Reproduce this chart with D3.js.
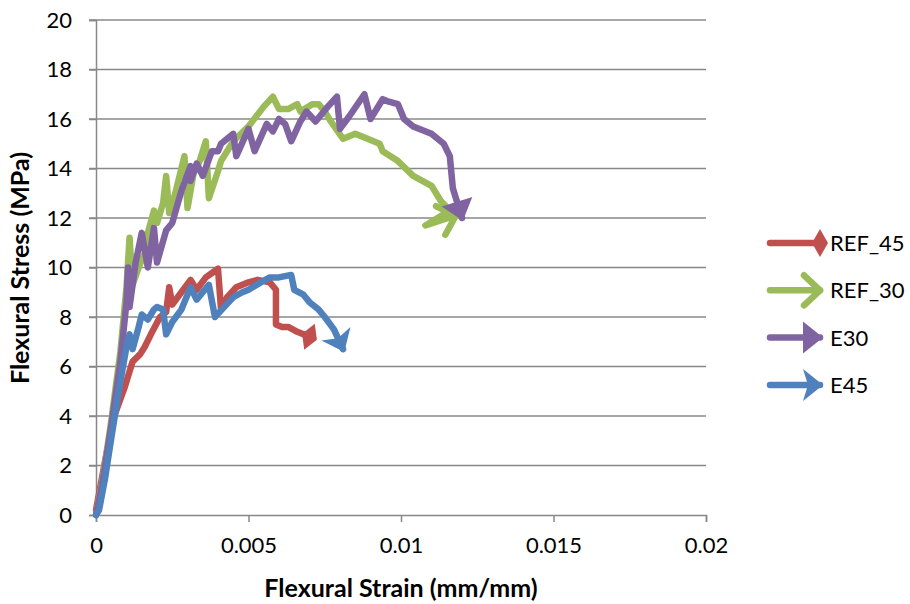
<!DOCTYPE html>
<html>
<head>
<meta charset="utf-8">
<script src="https://cdn.jsdelivr.net/npm/d3@7"></script>
<style>
  body { margin: 0; background: #fff; }
  text { font-family: Lato, "Open Sans", sans-serif; fill: #000; }
</style>
</head>
<body>
<div id="chart"></div>
<script>
// data: [strain (mm/mm), stress (MPa)]
const ref45 = [[0,0.2],[0.0003,2.2],[0.0006,4.0],[0.00095,5.2],[0.0012,6.2],[0.00145,6.5],[0.0016,6.8],[0.0018,7.3],[0.0021,8.0],[0.0023,8.2],[0.0024,9.2],[0.0025,8.5],[0.0028,9.0],[0.0031,9.5],[0.0033,9.1],[0.0036,9.6],[0.0040,9.95],[0.0041,8.3],[0.0043,8.8],[0.0046,9.2],[0.0050,9.4],[0.0053,9.5],[0.0057,9.4],[0.0059,9.1],[0.0059,7.7],[0.0061,7.6],[0.0063,7.6],[0.0066,7.4],[0.0068,7.3],[0.0070,7.2]];
const ref30 = [[0,0],[0.0002,1.3],[0.0005,3.8],[0.0008,6.6],[0.001,9.2],[0.0011,11.2],[0.0012,9.3],[0.0014,10.0],[0.0016,10.6],[0.0017,11.4],[0.0019,12.3],[0.0020,11.8],[0.0022,12.6],[0.0023,13.7],[0.0024,12.2],[0.0026,13.0],[0.0029,14.5],[0.0030,12.4],[0.0032,13.8],[0.0034,14.3],[0.0036,15.1],[0.0037,12.8],[0.0040,13.9],[0.0041,14.3],[0.0045,15.1],[0.0050,15.7],[0.0055,16.5],[0.0058,16.9],[0.0060,16.4],[0.0063,16.4],[0.0066,16.6],[0.0067,16.3],[0.0071,16.6],[0.0073,16.6],[0.0075,16.3],[0.0077,15.9],[0.0081,15.2],[0.0085,15.4],[0.0089,15.2],[0.0093,15.0],[0.0094,14.7],[0.0099,14.3],[0.0104,13.7],[0.0110,13.3],[0.0113,12.7],[0.0116,12.3],[0.0108,11.7],[0.0118,12.1]];
const e30 = [[0,0],[0.0002,1.2],[0.0005,3.6],[0.0008,6.2],[0.001,8.6],[0.00105,10.0],[0.0011,8.4],[0.0013,10.2],[0.0015,11.4],[0.0017,10.0],[0.0019,11.6],[0.0020,10.2],[0.0023,11.5],[0.0025,11.8],[0.0028,13.1],[0.0031,14.1],[0.0031,13.5],[0.0033,14.2],[0.0035,13.7],[0.0038,14.7],[0.0040,14.7],[0.0041,15.0],[0.0043,15.2],[0.0045,15.4],[0.0046,14.5],[0.0050,15.6],[0.0052,14.7],[0.0056,15.8],[0.0058,15.5],[0.0060,16.0],[0.0062,15.8],[0.0064,15.1],[0.0067,15.9],[0.0069,16.3],[0.0072,15.9],[0.0076,16.5],[0.0079,16.9],[0.0080,15.6],[0.0083,16.1],[0.0088,17.0],[0.0090,16.0],[0.0094,16.8],[0.0096,16.7],[0.0099,16.6],[0.0101,16.0],[0.0104,15.7],[0.0110,15.4],[0.0114,15.0],[0.0116,14.5],[0.0117,13.2],[0.0120,12.0]];
const e45 = [[0,0],[0.0001,0.2],[0.0003,1.5],[0.0005,3.1],[0.0008,5.4],[0.001,6.8],[0.0011,7.3],[0.0012,6.7],[0.0014,7.6],[0.0015,8.1],[0.0017,7.9],[0.0019,8.3],[0.0020,8.4],[0.0022,8.3],[0.0023,7.3],[0.0025,7.8],[0.0028,8.3],[0.0031,9.2],[0.0033,8.7],[0.0035,9.0],[0.0037,9.3],[0.0039,8.0],[0.0042,8.4],[0.0045,8.8],[0.0048,9.0],[0.0050,9.1],[0.0054,9.4],[0.0057,9.6],[0.0060,9.6],[0.0064,9.7],[0.0065,9.1],[0.0068,8.9],[0.0070,8.6],[0.0073,8.3],[0.0075,8.0],[0.0078,7.5],[0.0081,6.7]];

const seriesNames = ['REF_45', 'REF_30', 'E30', 'E45'];
const seriesData = [ref45, ref30, e30, e45];
const xTicks = [0, 0.005, 0.01, 0.015, 0.02];
const yTicks = [0, 2, 4, 6, 8, 10, 12, 14, 16, 18, 20];

const width = 910;
const height = 604;
const colors = ['#C0504D', '#9BBB59', '#8064A2', '#4F81BD'];
const markerKinds = ['diamond', 'open', 'triangle', 'stealth'];

const x = d3.scaleLinear().domain([0, 0.02]).range([96, 706]);
const y = d3.scaleLinear().domain([0, 20]).range([515, 20]);

const svg = d3.select('#chart').append('svg')
  .attr('width', width)
  .attr('height', height);

svg.append('rect').attr('width', width).attr('height', height).attr('fill', '#fff');

// end markers
const defs = svg.append('defs');
colors.forEach((c, i) => {
  const m = defs.append('marker')
    .attr('id', 'mk' + i)
    .attr('markerUnits', 'userSpaceOnUse')
    .attr('orient', 'auto')
    .attr('viewBox', '-30 -20 50 40')
    .attr('markerWidth', 50)
    .attr('markerHeight', 40)
    .attr('overflow', 'visible');
  const kind = markerKinds[i];
  if (kind === 'diamond') {
    m.attr('refX', 0).attr('refY', 0);
    m.append('path').attr('d', 'M-8,0 L0,-14 L8,0 L0,14 Z').attr('fill', c);
  } else if (kind === 'open') {
    m.attr('refX', 0).attr('refY', 0);
    m.append('path').attr('d', 'M-16,-15 L0,0 L-16,15')
      .attr('fill', 'none').attr('stroke', c).attr('stroke-width', 6.5)
      .attr('stroke-linecap', 'round').attr('stroke-linejoin', 'round');
  } else if (kind === 'triangle') {
    m.attr('refX', 4).attr('refY', 0);
    m.append('path').attr('d', 'M-13,-16 L7,0 L-13,16 Z').attr('fill', c);
  } else {
    m.attr('refX', 4).attr('refY', 0);
    m.append('path').attr('d', 'M7,0 L-13,-16 L-8,0 L-13,16 Z').attr('fill', c);
  }
});

// grid
svg.append('g')
  .selectAll('line')
  .data(yTicks.slice(1))
  .join('line')
  .attr('x1', 89).attr('x2', 706)
  .attr('y1', d => y(d)).attr('y2', d => y(d))
  .attr('stroke', '#888').attr('stroke-width', 1.5);

// axes
const xAxis = svg.append('g')
  .attr('transform', `translate(0,${y(0)})`)
  .call(d3.axisBottom(x).tickValues(xTicks).tickSize(7).tickPadding(10).tickFormat(d => String(d)));
const yAxis = svg.append('g')
  .attr('transform', `translate(${x(0)},0)`)
  .call(d3.axisLeft(y).tickValues(yTicks).tickSize(7).tickPadding(17));
[xAxis, yAxis].forEach(a => {
  a.select('.domain').attr('stroke', '#888').attr('stroke-width', 1.5);
  a.selectAll('.tick line').attr('stroke', '#888').attr('stroke-width', 1.5);
  a.selectAll('text').attr('font-size', 22).attr('font-family', 'Lato, sans-serif').attr('fill', '#000');
});
xAxis.selectAll('text').attr('dy', '0.95em');

// curves
const line = d3.line().x(d => x(d[0])).y(d => y(d[1]));
svg.append('g')
  .selectAll('path')
  .data(seriesData)
  .join('path')
  .attr('d', line)
  .attr('fill', 'none')
  .attr('stroke', (d, i) => colors[i])
  .attr('stroke-width', 6.5)
  .attr('stroke-linejoin', 'round')
  .attr('stroke-linecap', 'round')
  .attr('marker-end', (d, i) => `url(#mk${i})`);

// axis titles
svg.append('text')
  .attr('x', 401).attr('y', 597)
  .attr('text-anchor', 'middle')
  .attr('font-size', 25).attr('font-weight', 'bold')
  .text('Flexural Strain (mm/mm)');
svg.append('text')
  .attr('transform', 'translate(29,268) rotate(-90)')
  .attr('text-anchor', 'middle')
  .attr('font-size', 25).attr('font-weight', 'bold')
  .text('Flexural Stress (MPa)');

// legend
const legend = svg.append('g')
  .selectAll('g')
  .data(seriesNames)
  .join('g')
  .attr('transform', (d, i) => `translate(770,${243 + i * 47.3})`);
legend.append('path')
  .attr('d', 'M0,0 L50,0')
  .attr('stroke', (d, i) => colors[i])
  .attr('stroke-width', 6.5)
  .attr('stroke-linecap', 'round')
  .attr('marker-end', (d, i) => `url(#mk${i})`);
legend.append('text')
  .attr('x', 60).attr('y', 8)
  .attr('font-size', 22)
  .text(d => d);
</script>
</body>
</html>
